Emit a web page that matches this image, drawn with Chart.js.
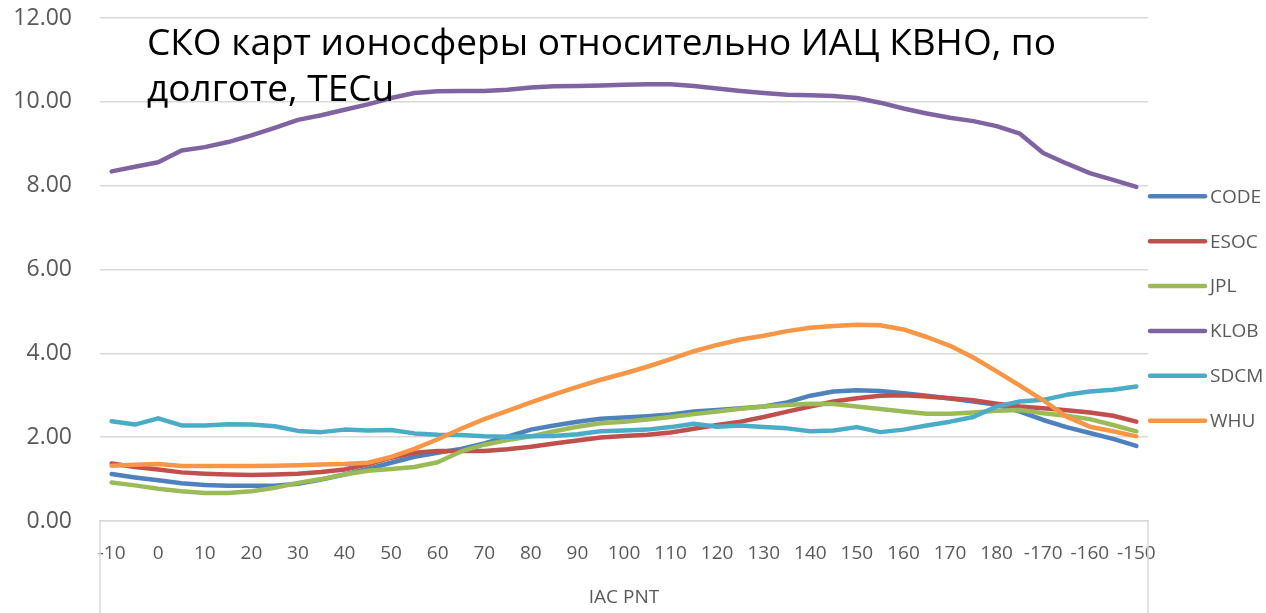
<!DOCTYPE html>
<html>
<head>
<meta charset="utf-8">
<script src="https://cdn.jsdelivr.net/npm/chart.js@4.4.1/dist/chart.umd.min.js"></script>
<style>
    html, body { margin: 0; padding: 0; background: #ffffff; }
    #wrap { width: 1266px; height: 613px; }
</style>
</head>
<body>
<div id="wrap"><canvas id="chart" width="1266" height="613"></canvas></div>
<script>
// Longitudes (degrees), one point every 5
const categories = [
    '-10', '-5', '0', '5', '10', '15', '20', '25', '30', '35',
    '40', '45', '50', '55', '60', '65', '70', '75', '80', '85',
    '90', '95', '100', '105', '110', '115', '120', '125', '130', '135',
    '140', '145', '150', '155', '160', '165', '170', '175', '180', '-175',
    '-170', '-165', '-160', '-155', '-150'
];

// RMS values, TECu
const code = [
    1.12, 1.04, 0.97, 0.90, 0.86, 0.84, 0.84, 0.84, 0.89, 0.99,
    1.11, 1.24, 1.39, 1.53, 1.63, 1.72, 1.85, 2.01, 2.18, 2.28,
    2.37, 2.44, 2.47, 2.50, 2.54, 2.61, 2.65, 2.69, 2.73, 2.83,
    2.99, 3.09, 3.12, 3.10, 3.05, 2.99, 2.92, 2.85, 2.77, 2.61,
    2.41, 2.24, 2.10, 1.96, 1.79
];
const esoc = [
    1.37, 1.29, 1.23, 1.16, 1.13, 1.11, 1.10, 1.11, 1.13, 1.17,
    1.23, 1.35, 1.51, 1.63, 1.67, 1.67, 1.67, 1.71, 1.77, 1.85,
    1.92, 1.99, 2.03, 2.06, 2.11, 2.20, 2.29, 2.37, 2.48, 2.61,
    2.73, 2.85, 2.93, 2.99, 3.00, 2.97, 2.93, 2.88, 2.80, 2.73,
    2.69, 2.64, 2.59, 2.51, 2.37
];
const jpl = [
    0.92, 0.85, 0.77, 0.71, 0.67, 0.67, 0.71, 0.79, 0.91, 1.00,
    1.11, 1.20, 1.24, 1.29, 1.40, 1.66, 1.82, 1.93, 2.02, 2.14,
    2.25, 2.33, 2.37, 2.42, 2.48, 2.55, 2.61, 2.68, 2.73, 2.77,
    2.80, 2.79, 2.73, 2.67, 2.61, 2.56, 2.56, 2.59, 2.63, 2.65,
    2.57, 2.51, 2.43, 2.29, 2.14
];
const klob = [
    8.34, 8.45, 8.56, 8.84, 8.92, 9.04, 9.20, 9.38, 9.57, 9.68,
    9.81, 9.94, 10.09, 10.21, 10.25, 10.26, 10.26, 10.29, 10.34, 10.37,
    10.38, 10.39, 10.41, 10.42, 10.42, 10.38, 10.32, 10.26, 10.21, 10.17,
    10.16, 10.14, 10.09, 9.98, 9.84, 9.72, 9.62, 9.54, 9.42, 9.24,
    8.78, 8.53, 8.30, 8.14, 7.97
];
const sdcm = [
    2.38, 2.30, 2.45, 2.28, 2.28, 2.31, 2.30, 2.26, 2.15, 2.12,
    2.18, 2.16, 2.17, 2.09, 2.06, 2.05, 2.02, 2.01, 2.02, 2.03,
    2.07, 2.14, 2.16, 2.18, 2.24, 2.32, 2.25, 2.28, 2.24, 2.21,
    2.14, 2.16, 2.24, 2.12, 2.18, 2.28, 2.37, 2.48, 2.73, 2.85,
    2.89, 3.01, 3.09, 3.13, 3.21
];
const whu = [
    1.32, 1.34, 1.36, 1.31, 1.31, 1.31, 1.31, 1.32, 1.33, 1.35,
    1.36, 1.39, 1.53, 1.72, 1.95, 2.20, 2.43, 2.63, 2.83, 3.02,
    3.20, 3.37, 3.52, 3.68, 3.86, 4.05, 4.20, 4.33, 4.42, 4.53,
    4.61, 4.65, 4.68, 4.67, 4.57, 4.39, 4.18, 3.90, 3.57, 3.23,
    2.88, 2.49, 2.25, 2.14, 2.02
];

const seriesNames = ['CODE', 'ESOC', 'JPL', 'KLOB', 'SDCM', 'WHU'];
const seriesValues = [code, esoc, jpl, klob, sdcm, whu];
const seriesColors = ['#4F81BD', '#C0504D', '#9BBB59', '#8064A2', '#4BACC6', '#F79646'];

const titleLines = ['СКО карт ионосферы относительно ИАЦ КВНО, по', 'долготе, TECu'];
const xAxisTitle = 'IAC PNT';

const FONT = '"Open Sans", "DejaVu Sans", sans-serif';
const TEXT_GREY = '#595959';
const GRID_GREY = '#d9d9d9';

// Vertical edges of the box under the plot area
const boxEdges = {
    id: 'boxEdges',
    afterDraw(chart) {
        const {ctx, chartArea} = chart;
        ctx.save();
        ctx.strokeStyle = GRID_GREY;
        ctx.lineWidth = 1.5;
        ctx.beginPath();
        ctx.moveTo(chartArea.left, chartArea.bottom);
        ctx.lineTo(chartArea.left, chart.height);
        ctx.moveTo(chartArea.right, chartArea.bottom);
        ctx.lineTo(chartArea.right, chart.height);
        ctx.stroke();
        ctx.restore();
    }
};

// Legend on the right, line samples like Excel
const sideLegend = {
    id: 'sideLegend',
    afterDraw(chart) {
        const {ctx, chartArea} = chart;
        const step = 44.9;
        const n = chart.data.datasets.length;
        const x0 = chartArea.right + 2;
        ctx.save();
        ctx.font = '19px ' + FONT;
        ctx.textBaseline = 'middle';
        ctx.textAlign = 'left';
        chart.data.datasets.forEach((ds, k) => {
            const y = chart.height / 2 + 2 + (k - (n - 1) / 2) * step;
            ctx.strokeStyle = ds.borderColor;
            ctx.lineWidth = 4.5;
            ctx.lineCap = 'round';
            ctx.beginPath();
            ctx.moveTo(x0, y);
            ctx.lineTo(x0 + 55, y);
            ctx.stroke();
            ctx.fillStyle = TEXT_GREY;
            ctx.fillText(ds.label, x0 + 60, y + 1);
        });
        ctx.restore();
    }
};

// Chart title sits over the plot area
const overTitle = {
    id: 'overTitle',
    afterDraw(chart) {
        const {ctx, chartArea} = chart;
        ctx.save();
        ctx.font = '37px ' + FONT;
        ctx.fillStyle = '#000000';
        ctx.textBaseline = 'alphabetic';
        ctx.textAlign = 'left';
        titleLines.forEach((line, i) => {
            ctx.fillText(line, chartArea.left + 47, 55 + i * 46);
        });
        ctx.restore();
    }
};

new Chart(document.getElementById('chart').getContext('2d'), {
    type: 'line',
    data: {
        labels: categories,
        datasets: seriesNames.map((name, i) => ({
            label: name,
            data: seriesValues[i],
            borderColor: seriesColors[i],
            backgroundColor: seriesColors[i],
            borderWidth: 4.5,
            borderCapStyle: 'round',
            borderJoinStyle: 'round',
            pointRadius: 0,
            pointHoverRadius: 0,
            tension: 0,
            fill: false,
            order: seriesNames.length - i
        }))
    },
    options: {
        responsive: false,
        animation: false,
        devicePixelRatio: 1,
        layout: {
            padding: {top: 18, right: 118, bottom: 0, left: 0}
        },
        plugins: {
            legend: {display: false},
            title: {display: false},
            tooltip: {enabled: false}
        },
        scales: {
            x: {
                type: 'category',
                offset: true,
                grid: {display: false, drawTicks: false},
                border: {display: true, color: GRID_GREY, width: 1.5},
                ticks: {
                    autoSkip: false,
                    maxRotation: 0,
                    minRotation: 0,
                    padding: 21,
                    color: TEXT_GREY,
                    font: {family: FONT, size: 19},
                    callback: (value, index) => (index % 2 === 0 ? categories[index] : '')
                },
                title: {
                    display: true,
                    text: xAxisTitle,
                    color: TEXT_GREY,
                    font: {family: FONT, size: 19},
                    padding: {top: 0, bottom: 4}
                },
                afterFit: scale => { scale.height = 92; }
            },
            y: {
                min: 0,
                max: 12,
                grid: {color: GRID_GREY, lineWidth: 1.5, drawTicks: false},
                border: {display: false},
                ticks: {
                    stepSize: 2,
                    padding: 28,
                    color: TEXT_GREY,
                    font: {family: FONT, size: 23},
                    callback: value => value.toFixed(2)
                },
                afterFit: scale => {
                    scale.width = 100;
                    scale.paddingTop = 14;
                    scale.paddingBottom = 14;
                }
            }
        }
    },
    plugins: [boxEdges, sideLegend, overTitle]
});
</script>
</body>
</html>
